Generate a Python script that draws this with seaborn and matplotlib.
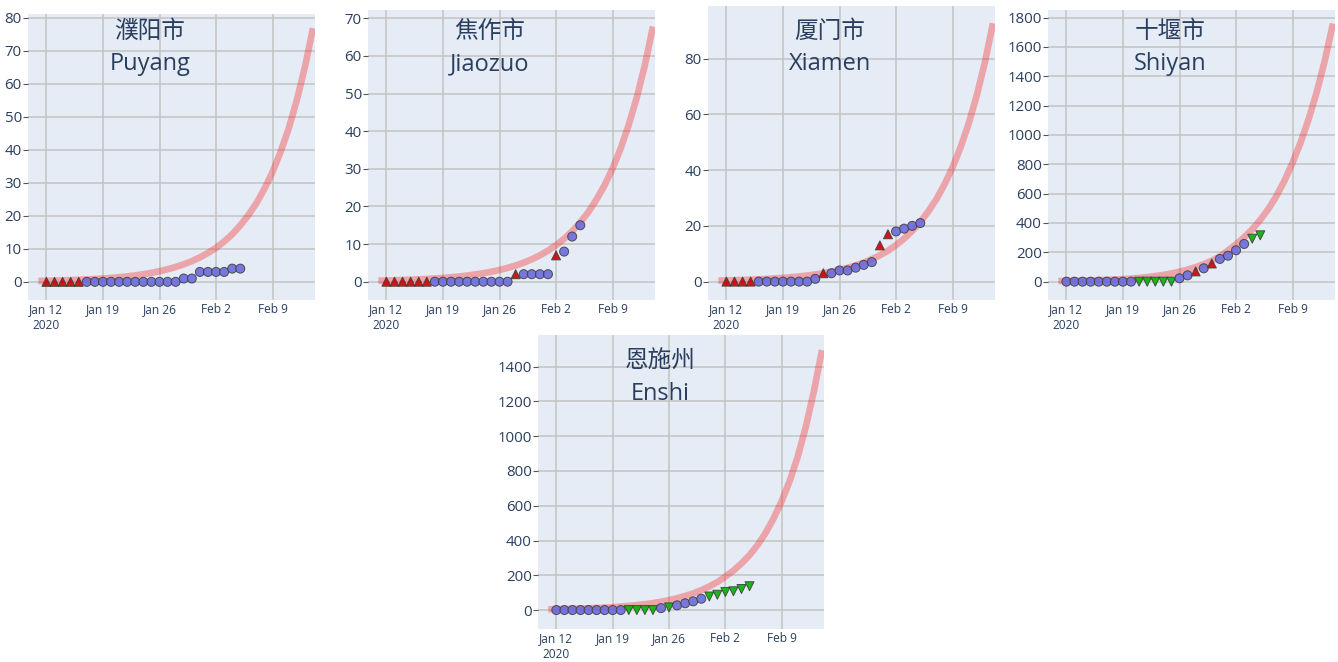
import matplotlib
matplotlib.use("Agg")
import matplotlib.pyplot as plt
import matplotlib.dates as mdates
import numpy as np
import pandas as pd
import seaborn as sns

# Observed days and fitted-curve days
obs_dates = pd.date_range("2020-01-12", "2020-02-05")
fit_dates = pd.date_range("2020-01-11", "2020-02-14")

# u = red triangle up, o = circle, d = green triangle down
puyang_cases = [0, 0, 0, 0, 0, 0, 0, 0, 0, 0, 0, 0, 0, 0, 0, 0, 0, 1, 1, 3, 3, 3, 3, 4, 4]
puyang_kinds = list("uuuuu" + "oooooooooooo" + "oo" + "oooo" + "oo")
puyang_fit = [0.26, 0.31, 0.37, 0.43, 0.51, 0.61, 0.72, 0.85, 1.0, 1.18, 1.39, 1.65, 1.95, 2.3,
              2.72, 3.21, 3.8, 4.49, 5.3, 6.27, 7.41, 8.75, 10.3, 12.2, 14.4, 17.1, 20.2, 23.8,
              28.2, 33.3, 39.4, 46.5, 55.0, 65.0, 76.8]

jiaozuo_cases = [0, 0, 0, 0, 0, 0, 0, 0, 0, 0, 0, 0, 0, 0, 0, 0, 2, 2, 2, 2, 2, 7, 8, 12, 15]
jiaozuo_kinds = list("uuuuuu" + "oooooooooo" + "u" + "oooo" + "u" + "ooo")
jiaozuo_fit = [0.28, 0.32, 0.38, 0.45, 0.53, 0.62, 0.73, 0.85, 1.0, 1.18, 1.39, 1.63, 1.92, 2.26,
               2.65, 3.12, 3.67, 4.31, 5.07, 5.96, 7.01, 8.24, 9.69, 11.4, 13.4, 15.8, 18.5, 21.8,
               25.6, 30.1, 35.4, 41.7, 49.0, 57.6, 67.8]

xiamen_cases = [0, 0, 0, 0, 0, 0, 0, 0, 0, 0, 0, 1, 3, 3, 4, 4, 5, 6, 7, 13, 17, 18, 19, 20, 21]
xiamen_kinds = list("uuuu" + "ooooooo" + "o" + "u" + "oooooo" + "uu" + "oooo")
xiamen_fit = [0.36, 0.43, 0.5, 0.59, 0.7, 0.82, 0.97, 1.14, 1.34, 1.57, 1.85, 2.18, 2.57, 3.02,
              3.56, 4.19, 4.93, 5.8, 6.83, 8.04, 9.46, 11.1, 13.1, 15.4, 18.2, 21.4, 25.2, 29.6,
              34.9, 41.0, 48.3, 56.8, 66.9, 78.7, 92.7]

shiyan_cases = [0, 0, 0, 0, 0, 0, 0, 0, 0, 0, 0, 0, 0, 0, 23, 43, 70, 91, 124, 155, 177, 214,
                257, 293, 316]
shiyan_kinds = list("ooooooooo" + "ddddd" + "oo" + "u" + "o" + "u" + "oooo" + "dd")
shiyan_fit = [4, 5, 6, 7, 8.5, 10, 12, 14.5, 17.5, 21, 25.5, 31, 38, 46, 56, 68, 82, 99, 119, 143,
              172, 212, 255, 302, 357, 421, 496, 584, 688, 812, 950, 1110, 1295, 1510, 1760]

enshi_cases = [0, 0, 0, 0, 0, 0, 0, 0, 0, 0, 0, 0, 0, 11, 15, 27, 39, 50, 65, 78, 88, 104, 108,
               121, 137]
enshi_kinds = list("ooooooooo" + "dddd" + "o" + "d" + "oooo" + "dddddd")
enshi_fit = [4.3, 5.1, 6.0, 7.2, 8.5, 10.1, 12.0, 14.2, 16.9, 20.1, 23.8, 28.3, 33.6, 39.9, 47.4,
             57, 68, 81, 96, 114, 136, 161, 192, 227, 268, 316, 374, 444, 528, 627, 744, 884,
             1055, 1260, 1495]

xtick_dates = ["2020-01-12", "2020-01-19", "2020-01-26", "2020-02-02", "2020-02-09"]
xtick_labels = ["Jan 12\n2020", "Jan 19", "Jan 26", "Feb 2", "Feb 9"]

# name_zh, name_en, cases, kinds, fit, (ymin, ymax), ytick step, box (left, top, right, bottom) px, title y px
panels = [
    ("濮阳市", "Puyang", puyang_cases, puyang_kinds, puyang_fit, (-5.5, 81.1), 10, (28, 14, 315, 300), 30),
    ("焦作市", "Jiaozuo", jiaozuo_cases, jiaozuo_kinds, jiaozuo_fit, (-4.86, 72.2), 10, (368, 10, 655, 300), 30),
    ("厦门市", "Xiamen", xiamen_cases, xiamen_kinds, xiamen_fit, (-6.6, 98.9), 20, (708, 6, 995, 300), 30),
    ("十堰市", "Shiyan", shiyan_cases, shiyan_kinds, shiyan_fit, (-125, 1852), 200, (1048, 10, 1335, 300), 30),
    ("恩施州", "Enshi", enshi_cases, enshi_kinds, enshi_fit, (-109, 1582), 200, (538, 335, 824, 629), 360),
]

plt.rcParams["font.family"] = ["Open Sans", "Noto Sans CJK SC", "DejaVu Sans"]
TEXT = "#2a3f5f"
W, H = 1338, 662
fig = plt.figure(figsize=(W / 100, H / 100), dpi=100)

x0 = mdates.date2num(pd.Timestamp("2020-01-12"))

for zh, en, cases, kinds, fit, ylim, step, box, ty in panels:
    left, top, right, bottom = box
    ax = fig.add_axes([left / W, 1 - bottom / H, (right - left) / W, (bottom - top) / H])
    ax.set_facecolor("#E5ECF6")

    sns.lineplot(x=fit_dates, y=fit, ax=ax, color="red", alpha=0.3, lw=4.8,
                 solid_capstyle="butt", zorder=2)

    df = pd.DataFrame({"date": obs_dates, "cases": cases, "kind": kinds})
    sns.scatterplot(data=df, x="date", y="cases", hue="kind", style="kind",
                    markers={"u": "^", "o": "o", "d": "v"},
                    palette={"u": "#cc0000", "o": "#6b6bdc", "d": "#00b300"},
                    s=42, edgecolor="#404040", linewidth=0.7, alpha=0.9,
                    legend=False, ax=ax, zorder=3)

    ax.set_xlim(x0 - 2.28, x0 + 33.25)
    ax.set_ylim(*ylim)
    ax.set_xticks([mdates.date2num(pd.Timestamp(d)) for d in xtick_dates])
    ax.set_xticklabels(xtick_labels, fontsize=8.6, color=TEXT, linespacing=1.3)
    yt = np.arange(0, ylim[1], step)
    ax.set_yticks(yt)
    ax.set_yticklabels([f"{int(v)}" for v in yt], fontsize=10.8, color=TEXT)
    ax.tick_params(axis="y", length=3.5, width=0.8, color="#555555", pad=1)
    ax.tick_params(axis="x", length=0, pad=2)
    ax.grid(True, color="#c3c3c3", lw=1.1)
    ax.set_axisbelow(True)
    for sp in ax.spines.values():
        sp.set_visible(False)
    ax.set_xlabel("")
    ax.set_ylabel("")

    # two-line title inside the panel
    tx = (left + 122) / W
    fig.text(tx, 1 - (ty + 2) / H, zh, ha="center", va="center", fontsize=17, color=TEXT)
    fig.text(tx, 1 - (ty + 34) / H, en, ha="center", va="center", fontsize=17, color=TEXT)

fig.savefig("out.png", dpi=100)
